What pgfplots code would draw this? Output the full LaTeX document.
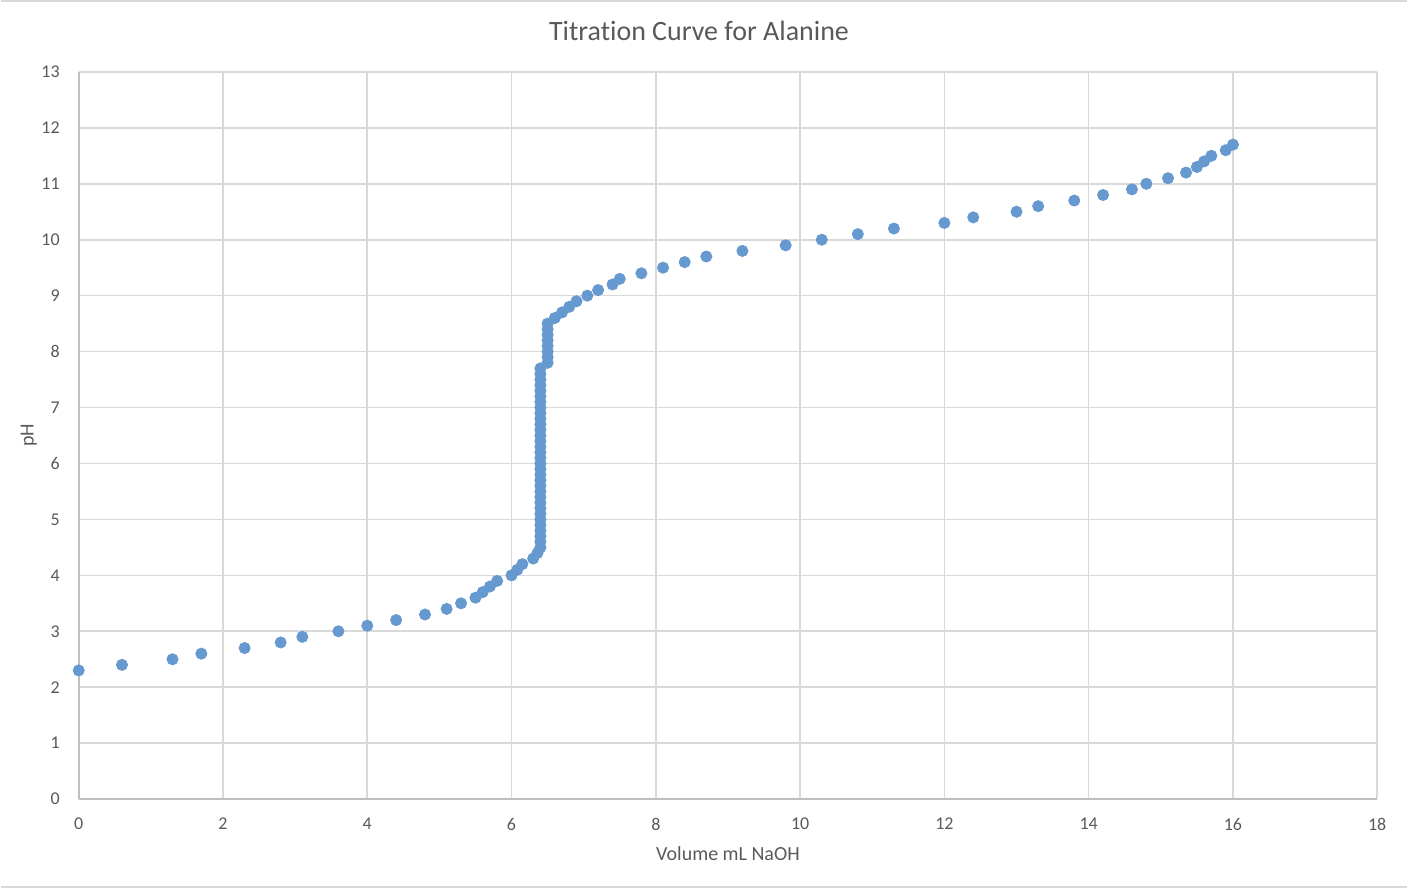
\documentclass[border=0pt]{standalone}
\usepackage{pgfplots}
\pgfplotsset{compat=1.18}
\usepackage{fontspec}
\setmainfont{Carlito}[Ligatures=NoCommon]
\definecolor{dotblue}{RGB}{102,153,208}
\definecolor{gridgray}{RGB}{217,217,217}
\definecolor{axisgray}{RGB}{191,191,191}
\definecolor{textgray}{RGB}{89,89,89}
\begin{document}
\begin{tikzpicture}
  % page frame, 1408x894 px at half scale
  \path (-39pt,-47pt) rectangle (665pt,400pt);
  \draw[color=gridgray,line width=0.8pt] (-39pt,399.4pt) -- (665pt,399.4pt);
  \draw[color=gridgray,line width=0.8pt] (-39pt,-44pt) -- (665pt,-44pt);
  \begin{axis}[
    at={(0,0)},anchor=south west,
    scale only axis,
    width=650pt,height=364pt,
    xmin=0,xmax=18,ymin=0,ymax=13,
    xtick={0,2,...,18},
    ytick={0,1,...,13},
    grid=major,
    major grid style={color=gridgray,line width=0.8pt},
    axis lines*=left,
    axis line style={color=axisgray,line width=0.8pt,-},
    tick style={draw=none},
    /pgf/number format/assume math mode=true,
    ticklabel style={font=\fontsize{9}{10}\selectfont,text=textgray},
    xticklabel style={anchor=center,yshift=-12.5pt},
    yticklabel style={anchor=east,xshift=-6pt},
    xlabel={Volume mL NaOH},
    ylabel={pH},
    label style={font=\fontsize{10}{12}\selectfont,text=textgray},
    xlabel style={at={(axis description cs:0.5,0)},anchor=center,yshift=-27.5pt},
    ylabel style={at={(axis description cs:-0.0385,0.5)},anchor=center},
    clip=false
  ]
  \addplot[only marks,mark=*,mark size=2.8pt,color=dotblue,mark options={draw=dotblue,fill=dotblue}] coordinates {
  (0,2.3) (0.6,2.4) (1.3,2.5) (1.7,2.6) (2.3,2.7) (2.8,2.8) (3.1,2.9)
  (3.6,3.0) (4.0,3.1) (4.4,3.2) (4.8,3.3) (5.1,3.4) (5.3,3.5) (5.5,3.6)
  (5.6,3.7) (5.7,3.8) (5.8,3.9) (6.0,4.0) (6.08,4.1) (6.15,4.2) (6.3,4.3)
  (6.36,4.4)
  (6.4,4.5) (6.4,4.6) (6.4,4.7) (6.4,4.8) (6.4,4.9) (6.4,5.0) (6.4,5.1)
  (6.4,5.2) (6.4,5.3) (6.4,5.4) (6.4,5.5) (6.4,5.6) (6.4,5.7) (6.4,5.8)
  (6.4,5.9) (6.4,6.0) (6.4,6.1) (6.4,6.2) (6.4,6.3) (6.4,6.4) (6.4,6.5)
  (6.4,6.6) (6.4,6.7) (6.4,6.8) (6.4,6.9) (6.4,7.0) (6.4,7.1) (6.4,7.2)
  (6.4,7.3) (6.4,7.4) (6.4,7.5) (6.4,7.6) (6.4,7.7)
  (6.5,7.8) (6.5,7.9) (6.5,8.0) (6.5,8.1) (6.5,8.2) (6.5,8.3) (6.5,8.4)
  (6.5,8.5)
  (6.6,8.6) (6.7,8.7) (6.8,8.8) (6.9,8.9) (7.05,9.0) (7.2,9.1) (7.4,9.2)
  (7.5,9.3) (7.8,9.4) (8.1,9.5) (8.4,9.6) (8.7,9.7) (9.2,9.8) (9.8,9.9)
  (10.3,10.0) (10.8,10.1) (11.3,10.2) (12.0,10.3) (12.4,10.4) (13.0,10.5)
  (13.3,10.6) (13.8,10.7) (14.2,10.8) (14.6,10.9) (14.8,11.0) (15.1,11.1)
  (15.35,11.2) (15.5,11.3) (15.6,11.4) (15.7,11.5) (15.9,11.6) (16.0,11.7)
  };
  \end{axis}
  \node[font=\fontsize{14}{17}\selectfont,text=textgray,anchor=center] at (310.5pt,384.5pt) {Titration Curve for Alanine};
\end{tikzpicture}
\end{document}
